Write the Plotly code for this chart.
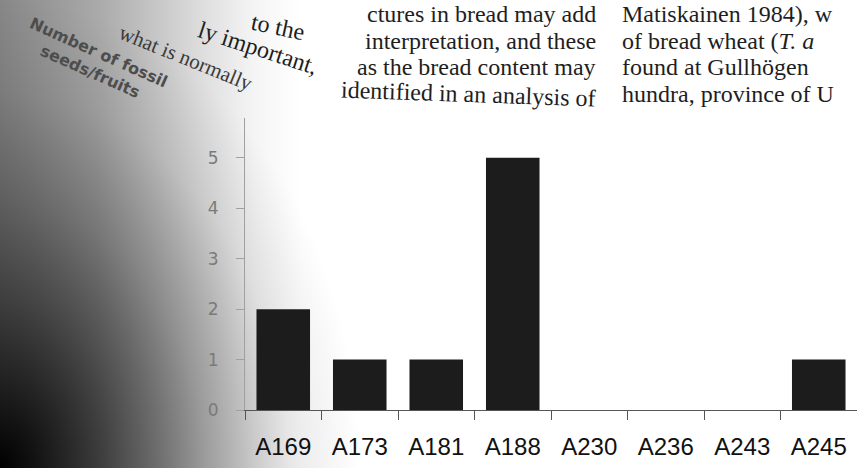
import base64
import plotly.graph_objects as go

# ---- data ----
categories = ["A169", "A173", "A181", "A188", "A230", "A236", "A243", "A245"]
seed_counts = [2, 1, 1, 5, 0, 0, 0, 1]
y_tick_values = [0, 1, 2, 3, 4, 5]
y_title_lines = ["Number of fossil", "seeds/fruits"]

# ---- geometry ----
W, H = 857, 468
L, R, T, B = 245, 0, 118, 58
PW, PH = W - L - R, H - T - B


def px(x):
    return (x - L) / PW


def py(y):
    return (H - B - y) / PH


# ---- page shading (photo of a curved book page) ----
svg = f'''<svg xmlns="http://www.w3.org/2000/svg" width="{W}" height="{H}" viewBox="0 0 {W} {H}" preserveAspectRatio="none">
<defs>
<linearGradient id="h" x1="0" y1="0" x2="300" y2="0" gradientUnits="userSpaceOnUse">
<stop offset="0" stop-color="#878787"/>
<stop offset="0.33" stop-color="#aaaaaa"/>
<stop offset="0.67" stop-color="#dddddd"/>
<stop offset="0.85" stop-color="#f5f5f5"/>
<stop offset="1" stop-color="#ffffff"/>
</linearGradient>
<radialGradient id="r">
<stop offset="0" stop-color="#000" stop-opacity="1"/>
<stop offset="0.2" stop-color="#000" stop-opacity="0.74"/>
<stop offset="0.36" stop-color="#000" stop-opacity="0.54"/>
<stop offset="0.57" stop-color="#000" stop-opacity="0.30"/>
<stop offset="0.8" stop-color="#000" stop-opacity="0.09"/>
<stop offset="1" stop-color="#000" stop-opacity="0"/>
</radialGradient>
</defs>
<rect x="0" y="0" width="{W}" height="{H}" fill="#ffffff"/>
<rect x="0" y="0" width="300" height="{H}" fill="url(#h)"/>
<rect x="-360" y="-2" width="720" height="940" fill="url(#r)"/>
</svg>'''
svg_uri = "data:image/svg+xml;base64," + base64.b64encode(svg.encode()).decode()

fig = go.Figure()
fig.add_trace(go.Bar(
    x=categories,
    y=seed_counts,
    marker=dict(color="#1c1c1c", line=dict(width=0)),
    width=0.7,
    hoverinfo="x+y",
))

serif = "Liberation Serif, Times New Roman, serif"
txt = "#1e1e1e"
annotations = []


def add_text(text, x, y, size=24, angle=0, xanchor="center", color=txt, family=serif):
    annotations.append(dict(
        text=text, x=px(x), y=py(y), xref="paper", yref="paper",
        xanchor=xanchor, yanchor="middle", showarrow=False,
        textangle=angle, font=dict(family=family, size=size, color=color),
    ))


rows = [14, 40.7, 67.4, 94.1]
# left column of the page
add_text("ctures in bread may add", 598, rows[0], xanchor="right")
add_text("interpretation, and these", 598, rows[1], xanchor="right")
add_text("as the bread content may", 598, rows[2], xanchor="right")
add_text("identified in an analysis of", 598, rows[3], xanchor="right", angle=2)
add_text("to the", 278, 27, angle=12)
add_text("ly important,", 258, 48, angle=18)
add_text("what is normally", 186, 58, size=21, angle=22, color="#3a3a3a")
# right column of the page
add_text("Matiskainen 1984), w", 620, rows[0], xanchor="left")
add_text("of bread wheat (<i>T. a</i>", 620, rows[1], xanchor="left")
add_text("found at Gullhögen", 620, rows[2], xanchor="left")
add_text("hundra, province of U", 620, rows[3], xanchor="left")
# y axis title (blurred, tilted)
add_text("<b>" + "<br>".join(y_title_lines) + "</b>", 94, 62, size=16, angle=24,
         color="#4d4d4d", family="DejaVu Sans, sans-serif")

fig.update_layout(
    width=W, height=H,
    margin=dict(l=L, r=R, t=T, b=B, pad=0),
    paper_bgcolor="#ffffff",
    plot_bgcolor="rgba(0,0,0,0)",
    showlegend=False,
    bargap=0.3,
    images=[dict(source=svg_uri, xref="paper", yref="paper",
                 x=px(0), y=py(0), sizex=W / PW, sizey=H / PH,
                 xanchor="left", yanchor="top", sizing="stretch", layer="below")],
    annotations=annotations,
    xaxis=dict(
        type="category",
        categoryorder="array", categoryarray=categories,
        range=[-0.5, len(categories) - 0.5],
        showgrid=False, zeroline=False,
        showline=True, linecolor="#555555", linewidth=1,
        ticks="outside", tickson="boundaries", ticklen=9, tickcolor="#555555", tickwidth=1,
        ticklabelstandoff=15,
        tickfont=dict(family="Liberation Sans, Arial, sans-serif", size=24, color="#111111"),
    ),
    yaxis=dict(
        range=[0, 5.79],
        tickvals=y_tick_values,
        showgrid=False, zeroline=False,
        showline=True, linecolor="#a0a0a0", linewidth=1,
        ticks="outside", ticklen=8, tickcolor="#a0a0a0", tickwidth=1,
        ticklabelstandoff=14,
        tickfont=dict(family="DejaVu Sans, sans-serif", size=17, color="#7a7a7a"),
    ),
)

fig.write_html("out.html",
               config={"displayModeBar": False},
               post_script="document.body.style.margin='0';document.body.style.overflow='hidden';")
